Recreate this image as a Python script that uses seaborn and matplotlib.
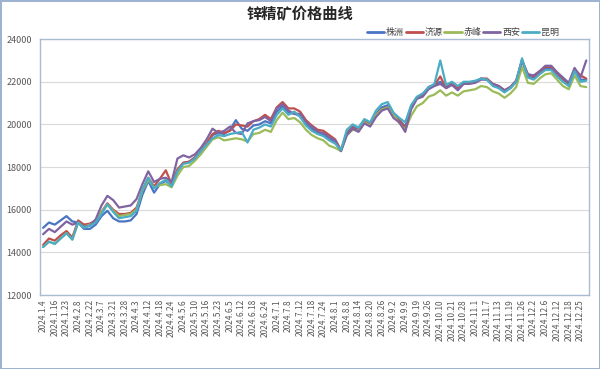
import numpy as np
import pandas as pd
import seaborn as sns
import matplotlib.pyplot as plt

# tick labels (every 2nd data point)
tick_labels = ['2024.1.4', '2024.1.16', '2024.1.23', '2024.2.8', '2024.2.22', '2024.3.7',
               '2024.3.21', '2024.3.28', '2024.4.3', '2024.4.12', '2024.4.18', '2024.4.24',
               '2024.5.6', '2024.5.10', '2024.5.16', '2024.5.23', '2024.6.5', '2024.6.12',
               '2024.6.18', '2024.6.24', '2024.7.1', '2024.7.8', '2024.7.12', '2024.7.18',
               '2024.7.24', '2024.8.1', '2024.8.8', '2024.8.14', '2024.8.20', '2024.8.26',
               '2024.9.2', '2024.9.9', '2024.9.19', '2024.9.26', '2024.10.10', '2024.10.21',
               '2024.10.28', '2024.11.1', '2024.11.7', '2024.11.13', '2024.11.19', '2024.11.26',
               '2024.12.2', '2024.12.6', '2024.12.12', '2024.12.18', '2024.12.25']

zhuzhou = [15150, 15400, 15300, 15500, 15700, 15450, 15400, 15100, 15100, 15300,
           15700, 15950, 15600, 15450, 15450, 15500, 15800, 16700, 17350, 16800,
           17200, 17350, 17150, 17800, 18200, 18250, 18450, 18750, 19100, 19500,
           19600, 19550, 19750, 20200, 19800, 19700, 19950, 20000, 20150, 20050,
           20600, 20850, 20550, 20500, 20400, 20000, 19800, 19600, 19500, 19300,
           19200, 18750, 19600, 19900, 19750, 20150, 20000, 20500, 20800, 20900,
           20450, 20200, 19900, 20800, 21250, 21350, 21700, 21850, 22000, 21750,
           21950, 21700, 21950, 21950, 22000, 22150, 22100, 21850, 21750, 21550,
           21700, 22000, 23000, 22250, 22150, 22400, 22650, 22600, 22350, 22100,
           21850, 22550, 22100, 22100]

jiyuan = [14350, 14650, 14550, 14800, 15000, 14700, 15500, 15300, 15350, 15500,
          15900, 16300, 16000, 15800, 15800, 15850, 16100, 16900, 17500, 17100,
          17450, 17850, 17200, 17900, 18200, 18250, 18450, 18800, 19100, 19550,
          19700, 19600, 19700, 20000, 19950, 19900, 20150, 20250, 20450, 20250,
          20800, 21050, 20750, 20750, 20600, 20200, 19950, 19750, 19700, 19500,
          19300, 18800, 19550, 19850, 19700, 20150, 20000, 20450, 20700, 20800,
          20450, 20200, 19800, 20800, 21250, 21400, 21750, 21850, 22250, 21700,
          21900, 21700, 21950, 21950, 22000, 22150, 22150, 21900, 21800, 21600,
          21750, 22050, 23000, 22350, 22250, 22450, 22700, 22700, 22400, 22150,
          21900, 22600, 22300, 22150]

chifeng = [14250, 14500, 14400, 14650, 14900, 14600, 15400, 15200, 15300, 15450,
           15900, 16250, 15950, 15700, 15750, 15800, 16000, 16900, 17400, 17050,
           17150, 17200, 17050, 17600, 18000, 18050, 18300, 18600, 18950, 19300,
           19400, 19250, 19300, 19350, 19300, 19200, 19550, 19600, 19750, 19650,
           20200, 20550, 20250, 20300, 20100, 19750, 19500, 19350, 19250, 19000,
           18900, 18750, 19500, 19750, 19700, 20100, 19950, 20450, 20700, 20800,
           20450, 20050, 19750, 20400, 20850, 21000, 21300, 21400, 21600, 21350,
           21500, 21350, 21550, 21600, 21650, 21800, 21750, 21550, 21450, 21250,
           21450, 21750, 22700, 21950, 21900, 22150, 22350, 22400, 22100, 21800,
           21650, 22300, 21800, 21750]

xian = [14850, 15100, 14950, 15200, 15450, 15300, 15400, 15200, 15250, 15550,
        16200, 16650, 16450, 16100, 16150, 16200, 16500, 17200, 17800, 17300,
        17450, 17500, 17300, 18400, 18550, 18450, 18600, 18900, 19300, 19800,
        19600, 19700, 19900, 19600, 19550, 20050, 20150, 20200, 20350, 20150,
        20750, 20950, 20650, 20500, 20500, 20100, 19900, 19650, 19600, 19400,
        19250, 18750, 19500, 19800, 19650, 20050, 19900, 20350, 20650, 20750,
        20300, 20100, 19650, 20700, 21200, 21300, 21650, 21800, 21900, 21700,
        21850, 21600, 21900, 21900, 21950, 22100, 22100, 21900, 21800, 21600,
        21750, 22050, 23000, 22350, 22300, 22500, 22750, 22750, 22450, 22200,
        21950, 22650, 22200, 23000]

kunming = [14250, 14500, 14400, 14650, 14900, 14600, 15400, 15150, 15250, 15400,
           15800, 16250, 15900, 15600, 15650, 15700, 15950, 16950, 17500, 17000,
           17250, 17400, 17100, 17800, 18150, 18200, 18400, 18750, 19050, 19350,
           19500, 19450, 19550, 19600, 19650, 19150, 19750, 19850, 20000, 19900,
           20450, 20750, 20450, 20600, 20350, 19950, 19700, 19550, 19450, 19250,
           19100, 18800, 19750, 20000, 19850, 20250, 20100, 20650, 20950, 21050,
           20550, 20300, 20100, 20900, 21300, 21450, 21750, 21900, 23000, 21850,
           22000, 21800, 22000, 22000, 22050, 22150, 22100, 21800, 21700, 21500,
           21700, 22000, 23100, 22200, 22100, 22350, 22550, 22550, 22250, 22000,
           21800, 22500, 22000, 22050]

series_names = ['株洲', '济源', '赤峰', '西安', '昆明']
colors = ['#4A75C2', '#C0504D', '#9BBB59', '#8064A2', '#4BACC6']

frames = []
for name, vals in zip(series_names, [zhuzhou, jiyuan, chifeng, xian, kunming]):
    frames.append(pd.DataFrame({'idx': np.arange(len(vals)), 'price': vals, 'city': name}))
df = pd.concat(frames, ignore_index=True)

sns.set_style('white')
plt.rcParams['font.family'] = ['Noto Sans CJK SC', 'DejaVu Sans']

fig = plt.figure(figsize=(6, 3.69), dpi=100, edgecolor='#9DB3CF', linewidth=1.0)
ax = fig.add_axes([0.067, 0.2005, 0.915, 0.6935])

sns.lineplot(data=df, x='idx', y='price', hue='city', palette=colors,
             hue_order=series_names, linewidth=1.6, ax=ax, legend=False)

ax.set_xlim(-0.5, len(zhuzhou) - 0.5)
ax.set_ylim(12000, 24000)
ax.set_yticks(range(12000, 24001, 2000))
ax.set_xticks(range(0, 2 * len(tick_labels), 2))
ax.set_xticklabels(tick_labels, rotation=90, fontsize=6, color='#595959')
ax.tick_params(axis='y', labelsize=6.5, labelcolor='#595959', length=0, pad=6)
ax.tick_params(axis='x', length=0, pad=3)
ax.yaxis.grid(True, color='#D9D9D9', linewidth=0.8)
ax.set_axisbelow(True)
ax.set_xlabel('')
ax.set_ylabel('')
for s in ax.spines.values():
    s.set_color('#A9BCD4')
    s.set_linewidth(1)

fig.text(0.5, 0.962, '锌精矿价格曲线', ha='center', va='center', fontsize=11,
         fontweight='bold', color='#262626')

handles = [plt.Line2D([], [], color=c, linewidth=2) for c in colors]
fig.legend(handles, series_names, ncol=5, loc='center right',
           bbox_to_anchor=(0.945, 0.912), frameon=False, fontsize=6.5,
           handlelength=1.9, handletextpad=0.2, columnspacing=0.2,
           labelcolor='#404040')

fig.savefig('out.png', dpi=100)
